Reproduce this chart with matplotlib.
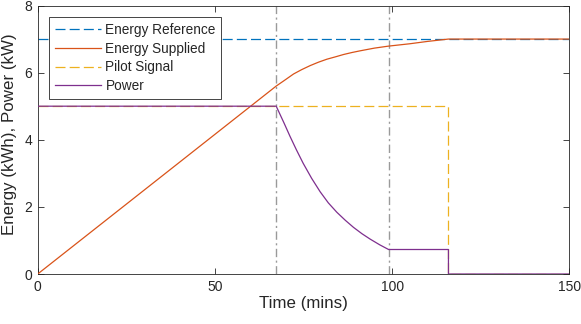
import matplotlib
matplotlib.use("Agg")
import matplotlib.pyplot as plt

# ---- data ----
ref_t = [0, 150]
ref_e = [7, 7]

sup_t = [0, 67.3, 69.5, 72.2, 74.5, 76.9, 79.2, 81.6, 84.0, 86.3, 88.7, 91.0, 95.0, 99.0, 105.0, 110.0, 115.9, 150]
sup_e = [0, 5.6, 5.76, 5.96, 6.09, 6.21, 6.31, 6.40, 6.47, 6.54, 6.60, 6.65, 6.73, 6.79, 6.86, 6.93, 7.0, 7.0]

pil_t = [0, 115.9, 115.9, 150]
pil_p = [5, 5, 0, 0]

pow_t = [0, 67.3, 69.5, 71.2, 73.0, 74.9, 77.3, 79.7, 82.0, 84.4, 86.8, 89.1, 91.5, 93.8, 96.5, 99.0, 115.9, 115.9, 150]
pow_p = [5, 5, 4.5, 4.1, 3.7, 3.3, 2.85, 2.45, 2.12, 1.84, 1.6, 1.39, 1.2, 1.04, 0.87, 0.73, 0.73, 0, 0]

vlines_t = [67.3, 99.0]

labels = ["Energy Reference", "Energy Supplied", "Pilot Signal", "Power"]
xticks = [0, 50, 100, 150]
yticks = [0, 2, 4, 6, 8]

plt.rcParams['font.family'] = ['Liberation Sans', 'DejaVu Sans']
plt.rcParams['lines.scale_dashes'] = False

fig = plt.figure(figsize=(5.81, 3.24), dpi=100)
ax = fig.add_axes([37.7/581, 1-274/324, (569.3-37.7)/581, (274-5.5)/324])

dark = '#262626'
for t in vlines_t:
    ax.plot([t, t], [0, 8], color='#9a9a9a', lw=1.0, dashes=(6, 2.5, 1.5, 2.5), zorder=1)

ax.plot(ref_t, ref_e, color='#0072BD', lw=0.9, dashes=(7.2, 3), label=labels[0], zorder=2)
ax.plot(sup_t, sup_e, color='#D95319', lw=0.9, label=labels[1], zorder=3)
ax.plot(pil_t, pil_p, color='#EDB120', lw=0.9, dashes=(7.2, 3), label=labels[2], zorder=2)
ax.plot(pow_t, pow_p, color='#7E2F8E', lw=0.9, label=labels[3], zorder=4)

ax.set_xlim(0, 150)
ax.set_ylim(0, 8)
ax.set_xticks(xticks)
ax.set_yticks(yticks)
ax.tick_params(direction='in', length=4, width=0.6, colors=dark, labelsize=10,
               top=True, right=True, pad=4)
for s in ax.spines.values():
    s.set_color(dark)
    s.set_linewidth(0.6)

ax.set_xlabel("Time (mins)", fontsize=12.2, color=dark, labelpad=2)
ax.set_ylabel("Energy (kWh), Power (kW)", fontsize=12.2, color=dark)
ax.yaxis.set_label_coords(-0.039, 0.52)

leg = ax.legend(loc='upper left', bbox_to_anchor=(49.3/581, 1-17.3/324), bbox_transform=fig.transFigure,
                fontsize=9.8, handlelength=3.4, handletextpad=0.3, labelspacing=0.34,
                borderpad=0.42, borderaxespad=0, fancybox=False, framealpha=1)
leg.get_frame().set_edgecolor(dark)
leg.get_frame().set_linewidth(0.6)
for txt in leg.get_texts():
    txt.set_color(dark)

fig.savefig("out.png", dpi=100)
